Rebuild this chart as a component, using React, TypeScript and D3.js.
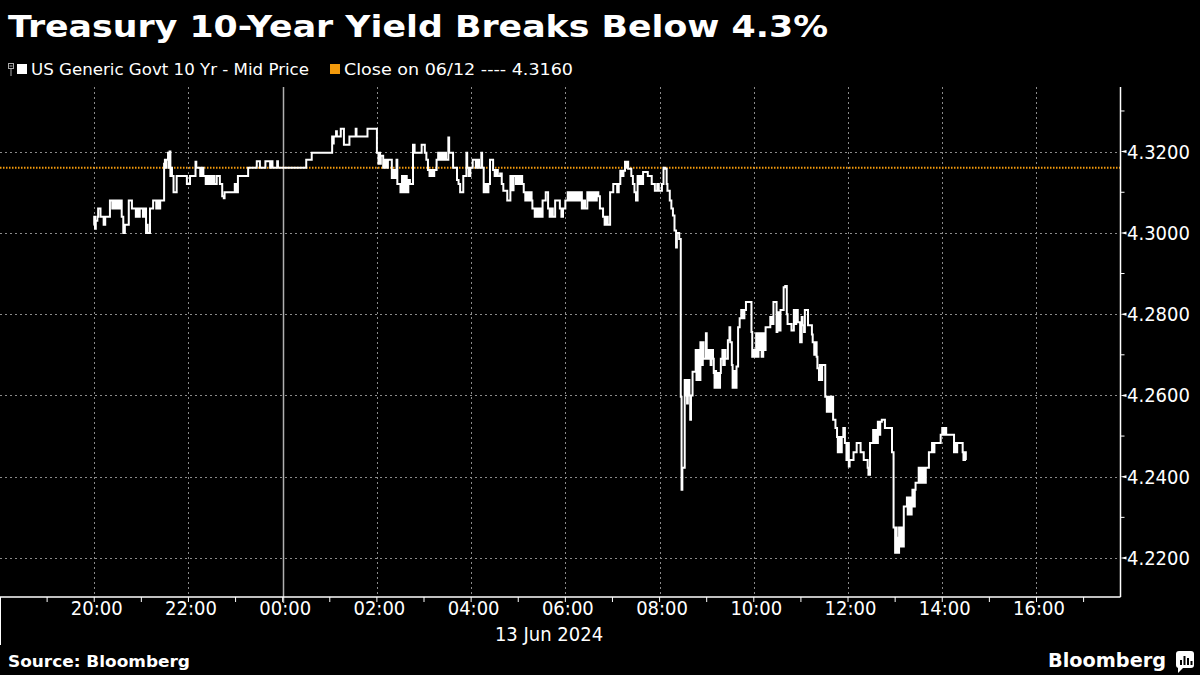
import React from "react";
import * as d3 from "d3";

const TITLE = "Treasury 10-Year Yield Breaks Below 4.3%";
const LEGEND_SERIES = "US Generic Govt 10 Yr - Mid Price";
const LEGEND_CLOSE = "Close on 06/12 ---- 4.3160";
const CLOSE_VALUE = 4.316;
const Y_TICKS = [4.22, 4.24, 4.26, 4.28, 4.3, 4.32];
const Y_MINOR = [4.23, 4.25, 4.27, 4.29, 4.31, 4.33];
const Y_DOMAIN = [4.2104, 4.3359];
const X_START = Date.UTC(2024, 5, 12, 18, 0);
const X_END = Date.UTC(2024, 5, 13, 17, 47);
const DAY_BREAK = Date.UTC(2024, 5, 13, 0, 0);
const DATE_LABEL = "13 Jun 2024";
const SOURCE = "Source: Bloomberg";
const BRAND = "Bloomberg";

// [time (18:00-23:59 = 12 Jun, otherwise 13 Jun), yield]
const series: [string, number][] = [
  ["19:59", 4.302], ["20:00", 4.304], ["20:01", 4.301], ["20:02", 4.303], ["20:04", 4.304],
  ["20:05", 4.306], ["20:08", 4.304], ["20:12", 4.302], ["20:14", 4.304], ["20:20", 4.308],
  ["20:23", 4.306], ["20:25", 4.308], ["20:27", 4.306], ["20:29", 4.308], ["20:31", 4.306],
  ["20:33", 4.308], ["20:35", 4.304], ["20:37", 4.3], ["20:39", 4.302], ["20:44", 4.308],
  ["20:48", 4.306], ["20:53", 4.304], ["20:55", 4.306], ["20:57", 4.304], ["20:58", 4.306],
  ["21:02", 4.304], ["21:04", 4.306], ["21:06", 4.3], ["21:07", 4.302], ["21:08", 4.3],
  ["21:11", 4.306], ["21:15", 4.308], ["21:19", 4.306], ["21:21", 4.308], ["21:23", 4.306],
  ["21:24", 4.308], ["21:29", 4.317], ["21:30", 4.318], ["21:31", 4.316], ["21:32", 4.318],
  ["21:34", 4.3197], ["21:35", 4.316], ["21:36", 4.32], ["21:37", 4.314], ["21:38", 4.316],
  ["21:39", 4.314], ["21:41", 4.31], ["21:45", 4.314], ["21:58", 4.312], ["22:02", 4.314],
  ["22:09", 4.3175], ["22:10", 4.316], ["22:15", 4.314], ["22:17", 4.316], ["22:19", 4.314],
  ["22:22", 4.312], ["22:23", 4.314], ["22:25", 4.312], ["22:27", 4.314], ["22:29", 4.312],
  ["22:31", 4.314], ["22:33", 4.312], ["22:36", 4.314], ["22:40", 4.312], ["22:43", 4.309],
  ["22:45", 4.3085], ["22:46", 4.31], ["22:59", 4.312], ["23:01", 4.31], ["23:03", 4.314],
  ["23:16", 4.316], ["23:27", 4.3176], ["23:31", 4.316], ["23:38", 4.3176], ["23:44", 4.316],
  ["23:46", 4.3176], ["23:47", 4.316], ["23:53", 4.3176], ["23:54", 4.316],
  ["00:30", 4.318], ["00:37", 4.3197], ["01:03", 4.3237], ["01:04", 4.322], ["01:05", 4.3237],
  ["01:08", 4.325], ["01:09", 4.3237], ["01:14", 4.3256], ["01:18", 4.3217], ["01:25", 4.3237],
  ["01:33", 4.3256], ["01:34", 4.3237], ["01:48", 4.3256], ["02:00", 4.3197], ["02:02", 4.317],
  ["02:03", 4.3197], ["02:04", 4.317], ["02:05", 4.319], ["02:08", 4.316], ["02:10", 4.318],
  ["02:12", 4.316], ["02:14", 4.318], ["02:19", 4.3135], ["02:21", 4.3155], ["02:23", 4.3135],
  ["02:25", 4.318], ["02:26", 4.312], ["02:30", 4.31], ["02:32", 4.314], ["02:34", 4.31],
  ["02:36", 4.314], ["02:38", 4.31], ["02:40", 4.313], ["02:42", 4.312], ["02:46", 4.3217],
  ["02:48", 4.3197], ["02:57", 4.3217], ["03:01", 4.3197], ["03:03", 4.318], ["03:05", 4.3155],
  ["03:07", 4.314], ["03:09", 4.3155], ["03:11", 4.314], ["03:13", 4.3155], ["03:16", 4.318],
  ["03:18", 4.3197], ["03:20", 4.318], ["03:22", 4.3197], ["03:24", 4.318], ["03:26", 4.3197],
  ["03:28", 4.318], ["03:31", 4.3235], ["03:32", 4.3197], ["03:37", 4.316], ["03:42", 4.313],
  ["03:44", 4.312], ["03:46", 4.31], ["03:50", 4.314], ["03:54", 4.3197], ["03:55", 4.316],
  ["03:57", 4.314], ["03:59", 4.316], ["04:02", 4.318], ["04:06", 4.316], ["04:08", 4.318],
  ["04:10", 4.316], ["04:13", 4.3197], ["04:14", 4.316], ["04:16", 4.31], ["04:18", 4.312],
  ["04:20", 4.31], ["04:22", 4.312], ["04:24", 4.318], ["04:28", 4.3155], ["04:30", 4.314],
  ["04:32", 4.3155], ["04:34", 4.314], ["04:37", 4.3146], ["04:39", 4.312], ["04:41", 4.3104],
  ["04:46", 4.308], ["04:50", 4.314], ["04:52", 4.3105], ["04:54", 4.314], ["04:57", 4.312],
  ["04:59", 4.314], ["05:01", 4.312], ["05:03", 4.314], ["05:05", 4.312], ["05:07", 4.31],
  ["05:09", 4.308], ["05:11", 4.31], ["05:13", 4.308], ["05:15", 4.31], ["05:17", 4.308],
  ["05:18", 4.306], ["05:21", 4.304], ["05:23", 4.306], ["05:25", 4.304], ["05:27", 4.306],
  ["05:29", 4.304], ["05:31", 4.308], ["05:35", 4.31], ["05:38", 4.306], ["05:40", 4.304],
  ["05:42", 4.306], ["05:44", 4.304], ["05:47", 4.308], ["05:53", 4.306], ["05:55", 4.304],
  ["05:57", 4.306], ["06:00", 4.308], ["06:03", 4.31], ["06:05", 4.308], ["06:07", 4.31],
  ["06:09", 4.308], ["06:11", 4.31], ["06:13", 4.308], ["06:15", 4.31], ["06:17", 4.308],
  ["06:19", 4.31], ["06:21", 4.306], ["06:23", 4.308], ["06:25", 4.306], ["06:28", 4.31],
  ["06:30", 4.308], ["06:32", 4.31], ["06:34", 4.308], ["06:36", 4.31], ["06:38", 4.308],
  ["06:40", 4.31], ["06:42", 4.309], ["06:44", 4.306], ["06:48", 4.304], ["06:50", 4.302],
  ["06:52", 4.304], ["06:54", 4.302], ["06:57", 4.31], ["07:01", 4.312], ["07:06", 4.31],
  ["07:08", 4.312], ["07:10", 4.3153], ["07:12", 4.314], ["07:14", 4.3153], ["07:16", 4.3175],
  ["07:18", 4.316], ["07:19", 4.3175], ["07:20", 4.3158], ["07:24", 4.314], ["07:26", 4.312],
  ["07:28", 4.31], ["07:30", 4.308], ["07:32", 4.314], ["07:34", 4.312], ["07:36", 4.314],
  ["07:38", 4.312], ["07:39", 4.315], ["07:45", 4.314], ["07:50", 4.312], ["07:54", 4.3104],
  ["07:57", 4.312], ["07:59", 4.3104], ["08:03", 4.312], ["08:05", 4.316], ["08:07", 4.3158],
  ["08:09", 4.312], ["08:10", 4.3104], ["08:13", 4.308], ["08:15", 4.306], ["08:17", 4.3043],
  ["08:19", 4.3006], ["08:21", 4.2964], ["08:22", 4.3], ["08:25", 4.2985], ["08:27", 4.2597],
  ["08:28", 4.2368], ["08:29", 4.2422], ["08:32", 4.2638], ["08:33", 4.26], ["08:34", 4.2638],
  ["08:35", 4.258], ["08:36", 4.2638], ["08:38", 4.26], ["08:39", 4.254], ["08:40", 4.26],
  ["08:42", 4.2658], ["08:46", 4.2712], ["08:47", 4.2638], ["08:49", 4.2712], ["08:50", 4.2638],
  ["08:52", 4.2731], ["08:53", 4.2675], ["08:55", 4.2731], ["08:56", 4.269], ["08:59", 4.2753],
  ["09:00", 4.2712], ["09:01", 4.269], ["09:03", 4.2712], ["09:05", 4.2675], ["09:06", 4.2712],
  ["09:08", 4.269], ["09:09", 4.2655], ["09:10", 4.2619], ["09:11", 4.266], ["09:12", 4.2619],
  ["09:14", 4.2655], ["09:15", 4.2619], ["09:17", 4.2655], ["09:18", 4.269], ["09:20", 4.2712],
  ["09:21", 4.2675], ["09:23", 4.2712], ["09:24", 4.269], ["09:27", 4.2736], ["09:29", 4.2768],
  ["09:30", 4.2731], ["09:32", 4.2675], ["09:33", 4.2619], ["09:35", 4.266], ["09:36", 4.2619],
  ["09:38", 4.2671], ["09:40", 4.2768], ["09:42", 4.279], ["09:44", 4.281], ["09:46", 4.279],
  ["09:48", 4.281], ["09:50", 4.283], ["09:57", 4.2756], ["09:58", 4.2695], ["10:00", 4.2712],
  ["10:01", 4.2695], ["10:03", 4.2753], ["10:04", 4.2695], ["10:06", 4.2753], ["10:07", 4.2712],
  ["10:09", 4.2753], ["10:10", 4.2695], ["10:12", 4.2753], ["10:13", 4.2712], ["10:15", 4.2768],
  ["10:21", 4.2793], ["10:23", 4.2776], ["10:25", 4.283], ["10:29", 4.2756], ["10:30", 4.2805],
  ["10:32", 4.276], ["10:34", 4.281], ["10:38", 4.2866], ["10:40", 4.2869], ["10:42", 4.28],
  ["10:43", 4.2776], ["10:48", 4.276], ["10:51", 4.281], ["10:52", 4.2776], ["10:54", 4.281],
  ["10:56", 4.278], ["10:59", 4.2731], ["11:01", 4.2793], ["11:02", 4.2773], ["11:04", 4.2756],
  ["11:05", 4.281], ["11:09", 4.2773], ["11:14", 4.275], ["11:15", 4.2731], ["11:17", 4.27],
  ["11:18", 4.2731], ["11:20", 4.2695], ["11:21", 4.2667], ["11:23", 4.2638], ["11:24", 4.2675],
  ["11:26", 4.2638], ["11:27", 4.2675], ["11:31", 4.2597], ["11:33", 4.256], ["11:35", 4.2597],
  ["11:37", 4.256], ["11:39", 4.2597], ["11:41", 4.254], ["11:44", 4.252], ["11:46", 4.2498],
  ["11:47", 4.246], ["11:49", 4.2498], ["11:50", 4.246], ["11:52", 4.2498], ["11:54", 4.252],
  ["11:56", 4.2483], ["11:58", 4.2441], ["11:59", 4.2483], ["12:01", 4.2425], ["12:02", 4.2441],
  ["12:07", 4.246], ["12:11", 4.2483], ["12:16", 4.246], ["12:20", 4.2441], ["12:25", 4.2422],
  ["12:26", 4.2405], ["12:28", 4.2483], ["12:32", 4.2515], ["12:33", 4.2483], ["12:35", 4.2515],
  ["12:36", 4.2483], ["12:38", 4.2535], ["12:39", 4.2503], ["12:41", 4.2535], ["12:43", 4.254],
  ["12:47", 4.252], ["12:56", 4.246], ["12:58", 4.2275], ["13:00", 4.2213], ["13:01", 4.2275],
  ["13:02", 4.2213], ["13:03", 4.225], ["13:04", 4.2213], ["13:05", 4.2275], ["13:06", 4.2228],
  ["13:08", 4.2275], ["13:09", 4.2228], ["13:11", 4.2327], ["13:15", 4.2349], ["13:16", 4.2307],
  ["13:18", 4.2349], ["13:19", 4.2307], ["13:21", 4.2349], ["13:22", 4.2368], ["13:23", 4.2327],
  ["13:25", 4.2368], ["13:26", 4.2385], ["13:30", 4.2422], ["13:31", 4.2385], ["13:33", 4.2422],
  ["13:34", 4.2385], ["13:36", 4.2422], ["13:37", 4.2385], ["13:39", 4.2422], ["13:43", 4.246],
  ["13:47", 4.2483], ["13:49", 4.246], ["13:50", 4.2483], ["13:58", 4.2503], ["14:00", 4.252],
  ["14:02", 4.2503], ["14:03", 4.252], ["14:05", 4.2503], ["14:15", 4.246], ["14:16", 4.2483],
  ["14:18", 4.246], ["14:19", 4.2483], ["14:26", 4.246], ["14:27", 4.2441], ["14:29", 4.246],
  ["14:30", 4.2441],
];

const parseTime = (s: string) => {
  const [h, m] = s.split(":").map(Number);
  return h >= 18 ? new Date(Date.UTC(2024, 5, 12, h, m)) : new Date(Date.UTC(2024, 5, 13, h, m));
};

const W = 1200;
const H = 675;
const PLOT_LEFT = 0;
const PLOT_RIGHT = 1120.5;
const PLOT_TOP = 87;
const PLOT_BOTTOM = 597;

const AXIS_FONT = "'DejaVu Sans Condensed', 'DejaVu Sans', sans-serif";

export default function App() {
  const x = d3.scaleUtc().domain([new Date(X_START), new Date(X_END)]).range([PLOT_LEFT, PLOT_RIGHT]);
  const y = d3.scaleLinear().domain(Y_DOMAIN).range([PLOT_BOTTOM, PLOT_TOP]);
  const data = series.map(([t, v]) => ({ t: parseTime(t), v }));
  const line = d3
    .line<{ t: Date; v: number }>()
    .x((d) => x(d.t))
    .y((d) => y(d.v))
    .curve(d3.curveStepAfter);

  const hourTicks = d3.utcHour.every(1)!.range(new Date(X_START), new Date(X_END));
  const labelTicks = hourTicks.filter((d) => d.getUTCHours() % 2 === 0 && x(d) > 40 && x(d) < 1080);
  const fmt = d3.utcFormat("%H:%M");
  const dayX = x(new Date(DAY_BREAK));

  return (
    <svg width={W} height={H} style={{ position: "absolute", left: 0, top: 0, background: "#000" }}>
      <rect x={0} y={0} width={W} height={H} fill="#000" />
      <text x={8} y={37} fill="#fff" fontFamily="'DejaVu Sans', sans-serif" fontWeight="bold" fontSize={31}
        textLength={820} lengthAdjust="spacingAndGlyphs">{TITLE}</text>

      {/* legend */}
      <g stroke="#aaa" strokeWidth={1} fill="none">
        <rect x={8.5} y={63.5} width={5} height={5} />
        <line x1={9.5} x2={12.5} y1={66} y2={66} />
        <line x1={11} x2={11} y1={69} y2={76} />
      </g>
      <rect x={17} y={64} width={10} height={10} fill="#fff" />
      <text x={31} y={75} fill="#fff" fontFamily={AXIS_FONT} fontSize={15} textLength={278}
        lengthAdjust="spacingAndGlyphs">{LEGEND_SERIES}</text>
      <rect x={330} y={64} width={10} height={10} fill="#f39a0c" />
      <text x={344} y={75} fill="#fff" fontFamily={AXIS_FONT} fontSize={15} textLength={229}
        lengthAdjust="spacingAndGlyphs">{LEGEND_CLOSE}</text>

      {/* grid */}
      <g stroke="#8a8a8a" strokeWidth={1} strokeDasharray="2,3">
        {Y_TICKS.map((v) => (
          <line key={v} x1={PLOT_LEFT} x2={PLOT_RIGHT} y1={Math.round(y(v)) + 0.5} y2={Math.round(y(v)) + 0.5} />
        ))}
        {labelTicks.filter((d) => +d !== DAY_BREAK).map((d) => (
          <line key={+d} x1={Math.round(x(d)) + 0.5} x2={Math.round(x(d)) + 0.5} y1={PLOT_TOP} y2={PLOT_BOTTOM} />
        ))}
      </g>
      <line x1={Math.round(dayX) + 0.5} x2={Math.round(dayX) + 0.5} y1={PLOT_TOP} y2={PLOT_BOTTOM + 6}
        stroke="#b0b0b0" strokeWidth={1.5} />

      {/* close line */}
      <line x1={PLOT_LEFT} x2={PLOT_RIGHT} y1={y(CLOSE_VALUE)} y2={y(CLOSE_VALUE)} stroke="#f39a0c"
        strokeWidth={2} strokeDasharray="1.5,1.5" />

      {/* series */}
      <path d={line(data) || ""} fill="none" stroke="#fff" strokeWidth={2} strokeLinejoin="miter" />

      {/* right axis */}
      <line x1={PLOT_RIGHT} x2={PLOT_RIGHT} y1={PLOT_TOP} y2={PLOT_BOTTOM} stroke="#fff" strokeWidth={1.5} />
      {Y_MINOR.map((v) => (
        <line key={v} x1={PLOT_RIGHT} x2={PLOT_RIGHT + 4} y1={y(v)} y2={y(v)} stroke="#fff" strokeWidth={1} />
      ))}
      {Y_TICKS.map((v) => (
        <g key={v}>
          <path d={`M${PLOT_RIGHT},${y(v)} L${PLOT_RIGHT + 6},${y(v) - 1.5} L${PLOT_RIGHT + 6},${y(v) + 1.5} Z`} fill="#fff" />
          <text x={1127} y={y(v) + 7} fill="#fff" fontFamily={AXIS_FONT} fontSize={20}>{v.toFixed(4)}</text>
        </g>
      ))}

      {/* x axis */}
      <line x1={0} x2={PLOT_RIGHT} y1={PLOT_BOTTOM} y2={PLOT_BOTTOM} stroke="#fff" strokeWidth={1.5} />
      {hourTicks.map((d) => (
        <line key={+d} x1={x(d)} x2={x(d)} y1={PLOT_BOTTOM} y2={PLOT_BOTTOM + 5} stroke="#fff" strokeWidth={1} />
      ))}
      {labelTicks.map((d) => (
        <text key={+d} x={x(d) + 2.5} y={615} fill="#fff" fontFamily={AXIS_FONT} fontSize={20} textAnchor="middle">
          {fmt(d)}
        </text>
      ))}
      <line x1={0.5} x2={0.5} y1={PLOT_BOTTOM} y2={645} stroke="#fff" strokeWidth={1} />
      <text x={549} y={641} fill="#fff" fontFamily={AXIS_FONT} fontSize={20} textAnchor="middle">{DATE_LABEL}</text>

      {/* footer */}
      <text x={8} y={667} fill="#fff" fontFamily="'DejaVu Sans', sans-serif" fontWeight="bold" fontSize={15}
        textLength={182} lengthAdjust="spacingAndGlyphs">{SOURCE}</text>
      <text x={1048} y={667} fill="#fff" fontFamily="'DejaVu Sans', sans-serif" fontWeight="bold" fontSize={20}
        textLength={118} lengthAdjust="spacingAndGlyphs">{BRAND}</text>
      <g>
        <rect x={1176} y={651} width={18} height={17} rx={3} fill="#fff" />
        <path d="M1178,667 L1178,673 L1184,667 Z" fill="#fff" />
        <rect x={1180} y={660} width={2} height={5} fill="#000" />
        <rect x={1183.5} y={656} width={2} height={9} fill="#000" />
        <rect x={1187} y={658} width={2} height={7} fill="#000" />
        <rect x={1190.5} y={661} width={2} height={4} fill="#000" />
      </g>
    </svg>
  );
}
